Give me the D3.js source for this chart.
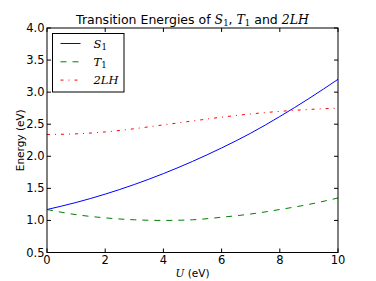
<!DOCTYPE html>
<html>
<head>
<meta charset="utf-8">
<script src="https://cdn.jsdelivr.net/npm/d3@7"></script>
<style>
  body { margin: 0; background: #fff; }
  svg { display: block; }
  text { font-family: "DejaVu Sans", sans-serif; }
  .math { font-family: "DejaVu Serif", serif; font-style: italic; }
</style>
</head>
<body>
<script>
// Transition energies vs U

// values
const U = [0, 1, 2, 3, 4, 5, 6, 7, 8, 9, 10];
const S1 = [1.17, 1.28, 1.41, 1.56, 1.73, 1.92, 2.13, 2.36, 2.62, 2.90, 3.20];
const T1 = [1.17, 1.09, 1.04, 1.01, 1.00, 1.01, 1.05, 1.10, 1.17, 1.25, 1.35];
const LH2 = [2.34, 2.35, 2.38, 2.43, 2.49, 2.55, 2.61, 2.66, 2.70, 2.73, 2.75];
const xTicks = [0, 2, 4, 6, 8, 10];
const yTicks = [0.5, 1.0, 1.5, 2.0, 2.5, 3.0, 3.5, 4.0];

const series = [
  { name: 'S', sub: '1', values: S1, color: '#0000ff', dash: null },
  { name: 'T', sub: '1', values: T1, color: '#008000', dash: '6,6' },
  { name: '2LH', sub: '', values: LH2, color: '#ff0000', dash: '3,5,1,5' }
];

const W = 376, H = 281;
const m = { left: 47, right: 338, top: 28, bottom: 252.5 };

const svg = d3.select('body').append('svg')
  .attr('width', W)
  .attr('height', H);

const x = d3.scaleLinear().domain([0, 10]).range([m.left, m.right]);
const y = d3.scaleLinear().domain([0.5, 4.0]).range([m.bottom, m.top]);

// lines
const line = d3.line()
  .x((d, i) => x(U[i]))
  .y(d => y(d))
  .curve(d3.curveMonotoneX);

series.forEach(s => {
  svg.append('path')
    .datum(s.values)
    .attr('d', line)
    .attr('fill', 'none')
    .attr('stroke', s.color)
    .attr('stroke-width', 1)
    .attr('stroke-dasharray', s.dash);
});

// frame
svg.append('rect')
  .attr('x', m.left)
  .attr('y', m.top)
  .attr('width', m.right - m.left)
  .attr('height', m.bottom - m.top)
  .attr('fill', 'none')
  .attr('stroke', '#000')
  .attr('stroke-width', 1);

// ticks inside, on all four sides
const tl = 4;
xTicks.forEach(t => {
  svg.append('line').attr('x1', x(t)).attr('x2', x(t))
    .attr('y1', m.bottom).attr('y2', m.bottom - tl).attr('stroke', '#000');
  svg.append('line').attr('x1', x(t)).attr('x2', x(t))
    .attr('y1', m.top).attr('y2', m.top + tl).attr('stroke', '#000');
  svg.append('text')
    .attr('x', x(t)).attr('y', m.bottom + 11)
    .attr('text-anchor', 'middle')
    .attr('font-size', 11.5)
    .text(t);
});
yTicks.forEach(t => {
  svg.append('line').attr('x1', m.left).attr('x2', m.left + tl)
    .attr('y1', y(t)).attr('y2', y(t)).attr('stroke', '#000');
  svg.append('line').attr('x1', m.right).attr('x2', m.right - tl)
    .attr('y1', y(t)).attr('y2', y(t)).attr('stroke', '#000');
  svg.append('text')
    .attr('x', m.left - 2.5).attr('y', y(t) + 4)
    .attr('text-anchor', 'end')
    .attr('font-size', 11.5)
    .text(t.toFixed(1));
});

// title
const title = svg.append('text')
  .attr('x', (m.left + m.right) / 2)
  .attr('y', 24)
  .attr('text-anchor', 'middle')
  .attr('font-size', 12.5);
title.append('tspan').text('Transition Energies of ');
title.append('tspan').attr('class', 'math').text('S');
title.append('tspan').attr('font-size', 8.5).attr('dy', 2).attr('class', 'math').style('font-style', 'normal').text('1');
title.append('tspan').attr('dy', -2).text(', ');
title.append('tspan').attr('class', 'math').text('T');
title.append('tspan').attr('font-size', 8.5).attr('dy', 2).attr('class', 'math').style('font-style', 'normal').text('1');
title.append('tspan').attr('dy', -2).text(' and ');
title.append('tspan').attr('class', 'math').text('2LH');

// axis labels
const xl = svg.append('text')
  .attr('x', (m.left + m.right) / 2)
  .attr('y', 277)
  .attr('text-anchor', 'middle')
  .attr('font-size', 10.5);
xl.append('tspan').attr('class', 'math').text('U');
xl.append('tspan').text(' (eV)');

svg.append('text')
  .attr('transform', `translate(24,${(m.top + m.bottom) / 2}) rotate(-90)`)
  .attr('text-anchor', 'middle')
  .attr('font-size', 10.5)
  .text('Energy (eV)');

// legend
const lg = svg.append('g').attr('transform', 'translate(52.5,33.5)');
lg.append('rect')
  .attr('width', 71.5).attr('height', 58.5)
  .attr('fill', '#fff').attr('stroke', '#000').attr('stroke-width', 1);
series.forEach((s, i) => {
  const yy = 10 + i * 18.3;
  lg.append('line')
    .attr('x1', 8).attr('x2', 28).attr('y1', yy).attr('y2', yy)
    .attr('stroke', s.color).attr('stroke-width', 1)
    .attr('stroke-dasharray', s.dash);
  const t = lg.append('text')
    .attr('x', 41).attr('y', yy + 4)
    .attr('font-size', 11.5);
  t.append('tspan').attr('class', 'math').text(s.name);
  if (s.sub) {
    t.append('tspan').attr('font-size', 8.5).attr('dy', 2.5)
      .attr('class', 'math').style('font-style', 'normal').text(s.sub);
  }
});
</script>
</body>
</html>
